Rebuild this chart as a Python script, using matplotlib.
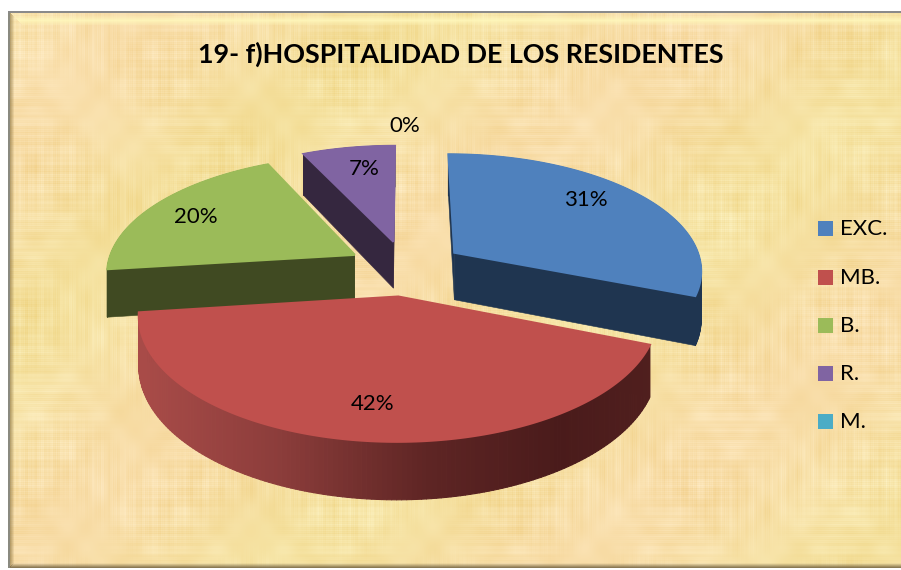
import numpy as np
import matplotlib
matplotlib.use('Agg')
import matplotlib.pyplot as plt
from matplotlib.collections import PolyCollection
from matplotlib.colors import to_rgb
from matplotlib.patches import Polygon, Rectangle

# --- Data ---
categories = ['EXC.', 'MB.', 'B.', 'R.', 'M.']
values = [31, 42, 20, 7, 0]
top_colors = ['#4f81bd', '#c0504d', '#9bbb59', '#8064a2', '#4bacc6']
side_colors = ['#1f3550', '#6a2c2a', '#404a22', '#35273f', '#1f4a55']
label_xy = [(586, 199), (373, 403), (196, 216), (364, 168), (405, 125)]
legend_y = [228, 277, 325, 373, 421]
title = '19- f)HOSPITALIDAD DE LOS RESIDENTES'

# --- Pie projection ---
CX, CY = 406, 268
RX, RY = 248, 116
PERSP = 0.14
DEPTH = 48
EXPLODE = 0.24
W, H = 901, 570
LEFT, TOP, RIGHT, BOTTOM = 9, 12, 901, 568


def project(u, v, z=0.0):
    w = 1 + PERSP * v
    return CX + RX * u / w, CY + (-RY * v + z * DEPTH) / w


def arc(a0, a1, mid, z=0.0, n=160):
    t = np.radians(np.linspace(a0, a1, n))
    du, dv = EXPLODE * np.sin(mid), EXPLODE * np.cos(mid)
    return np.column_stack(project(np.sin(t) + du, np.cos(t) + dv, z))


def apex(mid, z=0.0):
    return np.array(project(EXPLODE * np.sin(mid), EXPLODE * np.cos(mid), z))


def parchment():
    y, x = np.mgrid[0:BOTTOM - TOP, 0:RIGHT - LEFT].astype(float)
    blotch = (np.sin(x / 37 + 1.3) * np.sin(y / 29 + 0.4)
              + 0.5 * np.sin(x / 71 + y / 53)
              + 0.8 * np.sin(x / 9.7 + 2.1) * np.sin(y / 11.3 + 0.9)
              + 0.6 * np.sin(x / 5.3) * np.sin(y / 6.1 + 1.7))
    columns = (np.sin(x * 1.37) + np.sin(x * 0.61 + 1.0) + np.sin(x * 2.93 + 2.0) + np.sin(x * 0.23)) \
        * (0.5 + 0.5 * np.sin(y / 23 + np.sin(x / 31)))
    rows = (np.sin(y * 1.13 + 0.5) + np.sin(y * 0.47) + np.sin(y * 3.07 + 1.0) + np.sin(y * 0.19)) \
        * (0.5 + 0.5 * np.sin(x / 27 + 1 + np.sin(y / 37)))
    shade = blotch * 3.2 + (columns + rows) * 2.2
    pink = np.sin(x / 90 + y / 70)
    img = np.zeros(x.shape + (3,))
    img[..., 0] = 247 + shade * 0.4 + 2 * pink
    img[..., 1] = 224 + shade * 0.9 - 1.5 * pink
    img[..., 2] = 165 + shade * 1.9 + 6 * pink
    return np.clip(img / 255, 0, 1)


# --- Plot ---
fig = plt.figure(figsize=(W / 100, H / 100), dpi=100, facecolor='white')
ax = fig.add_axes([0, 0, 1, 1])
ax.imshow(parchment(), extent=(LEFT, RIGHT, BOTTOM, TOP), aspect='auto', zorder=0, interpolation='bilinear')
ax.set_xlim(0, W)
ax.set_ylim(H, 0)
ax.axis('off')

# bevel on the frame, mitred at the corners
for i in range(11):
    ax.add_patch(Rectangle((LEFT + 3 + i, TOP + 2 + i), RIGHT - LEFT, 1, color='#fff8bc',
                           alpha=max(0.0, 0.85 - abs(i - 6) * 0.15), lw=0, zorder=1))
for i in range(5):
    ax.add_patch(Polygon([(LEFT + i, TOP + i), (LEFT + i + 1, TOP + i), (LEFT + i + 1, BOTTOM - i), (LEFT + i, BOTTOM - i)],
                         color='#8c7440', alpha=0.75 - i * 0.15, lw=0, zorder=1.5))
    ax.add_patch(Rectangle((LEFT + i, BOTTOM - 1 - i), RIGHT - LEFT - i, 1, color='#6f6040',
                           alpha=0.8 - i * 0.18, lw=0, zorder=1.5))
ax.add_patch(Rectangle((LEFT - 1, TOP - 1), 2.4, BOTTOM - TOP + 1, color='#8a8a80', lw=0, zorder=2))
ax.add_patch(Rectangle((LEFT - 1, TOP - 1), RIGHT - LEFT + 1, 2.4, color='#8a8a8a', lw=0, zorder=2))

# rim shading of the big slice runs from left to right
shade_x = [145, 280, 430, 560, 655]
shade_c = np.array([to_rgb(c) for c in ['#a84b48', '#8c3d3b', '#5e2524', '#4a1b1b', '#501f1e']])

# --- Slices, back to front ---
total = sum(values)
starts = np.concatenate([[0], np.cumsum(values)[:-1]]) / total * 360
order = [3, 0, 2, 1]
z = 3
for i in order:
    a0 = starts[i]
    a1 = a0 + values[i] / total * 360
    mid = np.radians((a0 + a1) / 2)
    top_arc = arc(a0, a1, mid)
    low_arc = arc(a0, a1, mid, 1.0)
    c_top, c_low = apex(mid), apex(mid, 1.0)

    # cut faces
    for p_top, p_low in [(top_arc[0], low_arc[0]), (top_arc[-1], low_arc[-1])]:
        ax.add_patch(Polygon([c_top, p_top, p_low, c_low], fc=side_colors[i], ec=side_colors[i], lw=0.4, zorder=z))
    # outer rim
    quads = [[top_arc[j], top_arc[j + 1], low_arc[j + 1], low_arc[j]] for j in range(len(top_arc) - 1)]
    if i == 1:
        xs = top_arc[:-1, 0]
        rim = np.column_stack([np.interp(xs, shade_x, shade_c[:, k]) for k in range(3)])
    else:
        rim = [side_colors[i]] * len(quads)
    ax.add_collection(PolyCollection(quads, facecolors=rim, edgecolors=rim, linewidths=0.8, zorder=z))
    # top face, its edge hides the rim's outline
    ax.add_patch(Polygon(np.vstack([c_top, top_arc]), fc=top_colors[i], ec=top_colors[i], lw=1.6, zorder=z + 0.5))
    z += 1

# --- Text ---
font = 'Lato'
ax.text(461, 54, title, ha='center', va='center', fontsize=19.4, fontweight='bold', family=font, color='black', zorder=20)
for v, (x, y) in zip(values, label_xy):
    ax.text(x, y + 1, f'{v}%', ha='center', va='center', fontsize=16, family=font, color='black', zorder=20)

# --- Legend ---
for name, color, y in zip(categories, top_colors, legend_y):
    ax.add_patch(Rectangle((818, y - 7.5), 15, 15, fc=color, ec='none', zorder=20))
    ax.text(840, y + 1, name, ha='left', va='center', fontsize=16, family=font, color='black', zorder=20)

plt.savefig('out.png', dpi=100)
